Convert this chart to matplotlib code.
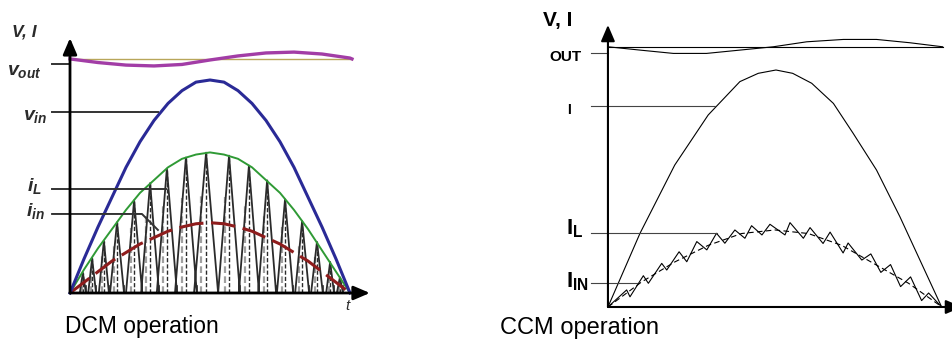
import matplotlib
matplotlib.use("Agg")
import matplotlib.pyplot as plt
import numpy as np

plt.rcParams['font.family'] = ['Liberation Sans', 'DejaVu Sans']
plt.rcParams['mathtext.fontset'] = 'custom'
plt.rcParams['mathtext.it'] = 'Liberation Sans:italic:bold'
plt.rcParams['mathtext.rm'] = 'Liberation Sans:bold'

# ---- DCM panel (t normalised to one half line period, v_in peak = 1) ----
dcm_t = [0.00, 0.05, 0.10, 0.15, 0.20, 0.25, 0.30, 0.35, 0.40, 0.45, 0.50,
         0.55, 0.60, 0.65, 0.70, 0.75, 0.80, 0.85, 0.90, 0.95, 1.00]
dcm_vin = [0.00, 0.16, 0.31, 0.45, 0.59, 0.71, 0.81, 0.89, 0.95, 0.99, 1.00,
           0.99, 0.95, 0.89, 0.81, 0.71, 0.59, 0.45, 0.31, 0.16, 0.00]
dcm_il_env = [0.00, 0.11, 0.21, 0.30, 0.39, 0.47, 0.53, 0.59, 0.63, 0.65, 0.66,
              0.65, 0.63, 0.59, 0.53, 0.47, 0.39, 0.30, 0.20, 0.10, 0.00]
dcm_iin = [0.00, 0.05, 0.10, 0.15, 0.19, 0.23, 0.26, 0.29, 0.31, 0.325, 0.33,
           0.325, 0.31, 0.29, 0.26, 0.23, 0.19, 0.15, 0.10, 0.05, 0.00]
dcm_vout_t = [0.0, 0.1, 0.2, 0.3, 0.4, 0.5, 0.6, 0.7, 0.8, 0.9, 1.0, 1.007]
dcm_vout = [1.099, 1.082, 1.070, 1.066, 1.073, 1.094, 1.113, 1.127, 1.131, 1.122, 1.103, 1.099]
dcm_vout_ref = 1.099

# switching pulses of the inductor current
dcm_peak_t = [0.046, 0.079, 0.121, 0.168, 0.229, 0.286, 0.346, 0.414, 0.486,
              0.568, 0.639, 0.704, 0.768, 0.829, 0.882, 0.929, 0.964]
dcm_peak_h = [0.095, 0.162, 0.245, 0.332, 0.435, 0.516, 0.584, 0.636, 0.659,
              0.645, 0.598, 0.529, 0.440, 0.338, 0.240, 0.146, 0.074]
dcm_half_w = [0.011, 0.014, 0.018, 0.025, 0.029, 0.032, 0.036, 0.039, 0.043,
              0.039, 0.036, 0.032, 0.029, 0.025, 0.021, 0.014, 0.011]

# ---- CCM panel (I peak = 1) ----
ccm_i_t = [0, 0.096, 0.20, 0.30, 0.395, 0.45, 0.503, 0.553, 0.61, 0.675,
           0.734, 0.804, 0.874, 0.934, 0.999]
ccm_i = [0, 0.311, 0.599, 0.810, 0.951, 0.986, 1.0, 0.986, 0.944, 0.859,
         0.733, 0.578, 0.381, 0.198, 0]
ccm_il_t = [0, 0.056, 0.066, 0.106, 0.121, 0.161, 0.176, 0.213, 0.236, 0.266,
            0.296, 0.325, 0.350, 0.380, 0.410, 0.430, 0.461, 0.485, 0.530,
            0.545, 0.585, 0.605, 0.644, 0.665, 0.704, 0.719, 0.760, 0.787,
            0.817, 0.846, 0.876, 0.906, 0.939, 0.960, 0.999]
ccm_il = [0, 0.072, 0.043, 0.132, 0.100, 0.184, 0.156, 0.233, 0.191, 0.276,
          0.241, 0.311, 0.269, 0.325, 0.290, 0.343, 0.304, 0.349, 0.304,
          0.356, 0.290, 0.335, 0.268, 0.316, 0.228, 0.270, 0.198, 0.224,
          0.146, 0.179, 0.086, 0.127, 0.027, 0.059, 0]
ccm_iin_t = [0, 0.1, 0.2, 0.3, 0.4, 0.5, 0.6, 0.7, 0.8, 0.9, 1.0]
ccm_iin = [0, 0.105, 0.19, 0.26, 0.31, 0.325, 0.31, 0.26, 0.18, 0.10, 0]
ccm_out_t = [0, 0.096, 0.196, 0.295, 0.395, 0.495, 0.595, 0.705, 0.804, 0.904, 1.002]
ccm_out = [1.098, 1.084, 1.070, 1.070, 1.084, 1.098, 1.119, 1.129, 1.129, 1.115, 1.098]
ccm_out_ref = 1.098

fig = plt.figure(figsize=(9.52, 3.41), dpi=100)
ax1 = fig.add_axes([0, 0, 0.5, 1])
ax2 = fig.add_axes([0.5, 0, 0.5, 1])
ax1.set_xlim(-0.25, 1.45)
ax1.set_ylim(-0.2254, 1.3756)
ax2.set_xlim(-0.395, 1.030)
ax2.set_ylim(-0.1435, 1.2954)
for ax in (ax1, ax2):
    ax.axis('off')


def axis_arrows(ax, xend, ytop, lw):
    style = dict(arrowstyle='-|>,head_length=0.7,head_width=0.3', color='black',
                 lw=lw, shrinkA=0, shrinkB=0, mutation_scale=14)
    ax.annotate('', xy=(0, ytop), xytext=(0, 0), arrowprops=style)
    ax.annotate('', xy=(xend, 0), xytext=(0, 0), arrowprops=style, annotation_clip=False)


# ---------------- DCM ----------------
ax = ax1
dark = '#2b2b2b'
# gray and black dashed switching marks
for tp, h, hw in zip(dcm_peak_t, dcm_peak_h, dcm_half_w):
    ax.plot([tp - 0.4 * hw, tp - 0.4 * hw], [0, 0.7 * h], color='#a0a0a0', lw=1.6,
            dashes=(3, 1.5))
    ax.plot([tp, tp], [0, h], color=dark, lw=1.0, dashes=(3, 1.5))
    ax.plot([tp + hw, tp + hw], [0, 0.035], color=dark, lw=1.2)
# triangular inductor current
xs, ys = [], []
for tp, h, hw in zip(dcm_peak_t, dcm_peak_h, dcm_half_w):
    xs += [tp - hw, tp, tp + hw]
    ys += [0, h, 0]
ax.plot(xs, ys, color=dark, lw=1.3)

ax.plot(dcm_t, dcm_il_env, color='#2f9a35', lw=1.4)
ax.plot(dcm_t, dcm_iin, color='#8e1c1c', lw=2.2, dashes=(8, 2.5))
ax.plot(dcm_t, dcm_vin, color='#2a2a96', lw=2.2)
ax.plot([0, dcm_vout_t[-1]], [dcm_vout_ref, dcm_vout_ref], color='#b8a65a', lw=1.0)
ax.plot(dcm_vout_t, dcm_vout, color='#a23da6', lw=2.4)

# leader lines
lead = dict(color='#333333', lw=1.4)
ax.plot([-0.064, 0], [1.075, 1.075], **lead)
ax.plot([-0.064, 0.314], [0.850, 0.850], **lead)
ax.plot([-0.064, 0.343], [0.488, 0.488], **lead)
ax.plot([-0.064, 0.257, 0.314], [0.371, 0.371, 0.296], **lead)

axis_arrows(ax, 1.071, 1.197, 2.0)

ax.text(-0.207, 1.225, 'V, I', fontsize=12.5, fontweight='bold', fontstyle='italic',
        color=dark, ha='left', va='center')
lab = dict(fontsize=14, color=dark, ha='right', va='center')
ax.text(-0.10, 1.04, r'$v_{out}$', **lab)
ax.text(-0.08, 0.83, r'$v_{in}$', **lab)
ax.text(-0.10, 0.50, r'$i_{L}$', **lab)
ax.text(-0.09, 0.385, r'$i_{in}$', **lab)
ax.text(0.99, -0.06, 't', fontsize=11, fontstyle='italic', color=dark,
        ha='center', va='center')
ax.text(-0.018, -0.188, 'DCM operation', fontsize=16.5, ha='left', va='baseline')

# ---------------- CCM ----------------
ax = ax2
ax.plot(ccm_i_t, ccm_i, color='black', lw=0.8)
ax.plot(ccm_il_t, ccm_il, color='black', lw=0.8)
ax.plot(ccm_iin_t, ccm_iin, color='black', lw=0.8, dashes=(5, 3))
ax.plot([0, ccm_out_t[-1]], [ccm_out_ref, ccm_out_ref], color='black', lw=0.8)
ax.plot(ccm_out_t, ccm_out, color='black', lw=0.8)

lead = dict(color='#444444', lw=0.8)
ax.plot([-0.051, 0], [1.072, 1.072], **lead)
ax.plot([-0.051, 0.320], [0.848, 0.848], **lead)
ax.plot([-0.051, 0.326], [0.312, 0.312], **lead)
ax.plot([-0.051, 0.087], [0.103, 0.103], **lead)

axis_arrows(ax, 1.06, 1.19, 1.5)

ax.text(-0.195, 1.211, 'V, I', fontsize=15, fontweight='bold', ha='left', va='center')
ax.text(-0.078, 1.055, 'OUT', fontsize=11, fontweight='bold', ha='right', va='center')
ax.text(-0.111, 0.831, 'I', fontsize=10, fontweight='bold', ha='right', va='center')
ax.text(-0.126, 0.33, r'$\mathrm{I}_{\mathrm{L}}$', fontsize=16, ha='left', va='center')
ax.text(-0.126, 0.105, r'$\mathrm{I}_{\mathrm{IN}}$', fontsize=16, ha='left', va='center')
ax.text(-0.323, -0.114, 'CCM operation', fontsize=17, ha='left', va='baseline')

fig.savefig('out.png', dpi=100)
